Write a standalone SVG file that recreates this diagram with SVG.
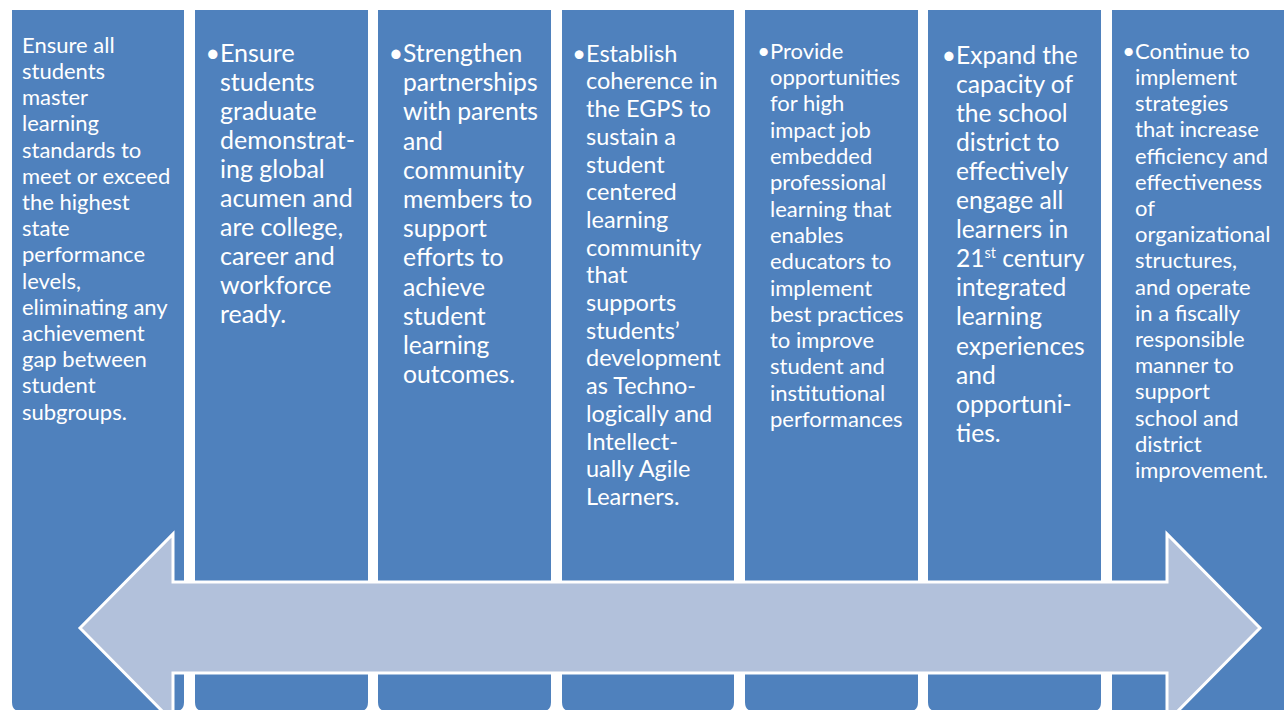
<svg xmlns="http://www.w3.org/2000/svg" width="1284" height="710" viewBox="0 0 1284 710">
<style>
.col{fill:#4F81BD}
.t{font-family:Lato,"Open Sans","Liberation Sans",sans-serif;fill:#FFFFFF}
.c1{font-size:22px}
.c2{font-size:25px}
.c3{font-size:24.7px}
.c4{font-size:23.5px}
.c5{font-size:22px}
.c6{font-size:24.6px}
.c7{font-size:22px}
.arrow{fill:#B2C1DB;stroke:#FFFFFF;stroke-width:3;stroke-linejoin:miter}
</style>
<rect width="1284" height="710" fill="#FFFFFF"/>
<g id="col1">
<path class="col" d="M12,10 H184 V702 Q184,711 176,711 H20 Q12,711 12,702 Z"/>
<text class="t c1" x="22" y="52.7">
<tspan x="22" y="52.7">Ensure all</tspan>
<tspan x="22" dy="26.2">students</tspan>
<tspan x="22" dy="26.2">master</tspan>
<tspan x="22" dy="26.2">learning</tspan>
<tspan x="22" dy="26.2">standards to</tspan>
<tspan x="22" dy="26.2">meet or exceed</tspan>
<tspan x="22" dy="26.2">the highest</tspan>
<tspan x="22" dy="26.2">state</tspan>
<tspan x="22" dy="26.2">performance</tspan>
<tspan x="22" dy="26.2">levels,</tspan>
<tspan x="22" dy="26.2">eliminating any</tspan>
<tspan x="22" dy="26.2">achievement</tspan>
<tspan x="22" dy="26.2">gap between</tspan>
<tspan x="22" dy="26.2">student</tspan>
<tspan x="22" dy="26.2">subgroups.</tspan>
</text>
</g>
<g id="col2">
<path class="col" d="M195,10 H368 V702 Q368,711 360,711 H203 Q195,711 195,702 Z"/>
<text class="t c2" x="220" y="62" text-anchor="end">•</text>
<text class="t c2" x="220" y="62">
<tspan x="220" y="62">Ensure</tspan>
<tspan x="220" dy="29">students</tspan>
<tspan x="220" dy="29">graduate</tspan>
<tspan x="220" dy="29">demonstrat-</tspan>
<tspan x="220" dy="29">ing global</tspan>
<tspan x="220" dy="29">acumen and</tspan>
<tspan x="220" dy="29">are college,</tspan>
<tspan x="220" dy="29">career and</tspan>
<tspan x="220" dy="29">workforce</tspan>
<tspan x="220" dy="29">ready.</tspan>
</text>
</g>
<g id="col3">
<path class="col" d="M378,10 H551 V702 Q551,711 543,711 H386 Q378,711 378,702 Z"/>
<text class="t c3" x="403" y="62" text-anchor="end">•</text>
<text class="t c3" x="403" y="62">
<tspan x="403" y="62">Strengthen</tspan>
<tspan x="403" dy="29.2">partnerships</tspan>
<tspan x="403" dy="29.2">with parents</tspan>
<tspan x="403" dy="29.2">and</tspan>
<tspan x="403" dy="29.2">community</tspan>
<tspan x="403" dy="29.2">members to</tspan>
<tspan x="403" dy="29.2">support</tspan>
<tspan x="403" dy="29.2">efforts to</tspan>
<tspan x="403" dy="29.2">achieve</tspan>
<tspan x="403" dy="29.2">student</tspan>
<tspan x="403" dy="29.2">learning</tspan>
<tspan x="403" dy="29.2">outcomes.</tspan>
</text>
</g>
<g id="col4">
<path class="col" d="M562,10 H734 V702 Q734,711 726,711 H570 Q562,711 562,702 Z"/>
<text class="t c4" x="586" y="61.7" text-anchor="end">•</text>
<text class="t c4" x="586" y="61.7">
<tspan x="586" y="61.7">Establish</tspan>
<tspan x="586" dy="27.7">coherence in</tspan>
<tspan x="586" dy="27.7">the EGPS to</tspan>
<tspan x="586" dy="27.7">sustain a</tspan>
<tspan x="586" dy="27.7">student</tspan>
<tspan x="586" dy="27.7">centered</tspan>
<tspan x="586" dy="27.7">learning</tspan>
<tspan x="586" dy="27.7">community</tspan>
<tspan x="586" dy="27.7">that</tspan>
<tspan x="586" dy="27.7">supports</tspan>
<tspan x="586" dy="27.7">students’</tspan>
<tspan x="586" dy="27.7">development</tspan>
<tspan x="586" dy="27.7">as Techno-</tspan>
<tspan x="586" dy="27.7">logically and</tspan>
<tspan x="586" dy="27.7">Intellect-</tspan>
<tspan x="586" dy="27.7">ually Agile</tspan>
<tspan x="586" dy="27.7">Learners.</tspan>
</text>
</g>
<g id="col5">
<path class="col" d="M745,10 H918 V702 Q918,711 910,711 H753 Q745,711 745,702 Z"/>
<text class="t c5" x="770" y="58.8" text-anchor="end">•</text>
<text class="t c5" x="770" y="58.8">
<tspan x="770" y="58.8">Provide</tspan>
<tspan x="770" dy="26.3">opportunities</tspan>
<tspan x="770" dy="26.3">for high</tspan>
<tspan x="770" dy="26.3">impact job</tspan>
<tspan x="770" dy="26.3">embedded</tspan>
<tspan x="770" dy="26.3">professional</tspan>
<tspan x="770" dy="26.3">learning that</tspan>
<tspan x="770" dy="26.3">enables</tspan>
<tspan x="770" dy="26.3">educators to</tspan>
<tspan x="770" dy="26.3">implement</tspan>
<tspan x="770" dy="26.3">best practices</tspan>
<tspan x="770" dy="26.3">to improve</tspan>
<tspan x="770" dy="26.3">student and</tspan>
<tspan x="770" dy="26.3">institutional</tspan>
<tspan x="770" dy="26.3">performances</tspan>
</text>
</g>
<g id="col6">
<path class="col" d="M928,10 H1101 V702 Q1101,711 1093,711 H936 Q928,711 928,702 Z"/>
<text class="t c6" x="956" y="63.5" text-anchor="end">•</text>
<text class="t c6" x="956" y="63.5">
<tspan x="956" y="63.5">Expand the</tspan>
<tspan x="956" dy="29.1">capacity of</tspan>
<tspan x="956" dy="29.1">the school</tspan>
<tspan x="956" dy="29.1">district to</tspan>
<tspan x="956" dy="29.1">effectively</tspan>
<tspan x="956" dy="29.1">engage all</tspan>
<tspan x="956" dy="29.1">learners in</tspan>
<tspan x="956" dy="29.1">21<tspan font-size="14.5" dy="-9">st</tspan><tspan dy="9"> century</tspan></tspan>
<tspan x="956" dy="29.1">integrated</tspan>
<tspan x="956" dy="29.1">learning</tspan>
<tspan x="956" dy="29.1">experiences</tspan>
<tspan x="956" dy="29.1">and</tspan>
<tspan x="956" dy="29.1">opportuni-</tspan>
<tspan x="956" dy="29.1">ties.</tspan>
</text>
</g>
<g id="col7">
<path class="col" d="M1112,10 H1284 V711 H1112 Z"/>
<text class="t c7" x="1135" y="58.8" text-anchor="end">•</text>
<text class="t c7" x="1135" y="58.8">
<tspan x="1135" y="58.8">Continue to</tspan>
<tspan x="1135" dy="26.2">implement</tspan>
<tspan x="1135" dy="26.2">strategies</tspan>
<tspan x="1135" dy="26.2">that increase</tspan>
<tspan x="1135" dy="26.2">efficiency and</tspan>
<tspan x="1135" dy="26.2">effectiveness</tspan>
<tspan x="1135" dy="26.2">of</tspan>
<tspan x="1135" dy="26.2">organizational</tspan>
<tspan x="1135" dy="26.2">structures,</tspan>
<tspan x="1135" dy="26.2">and operate</tspan>
<tspan x="1135" dy="26.2">in a fiscally</tspan>
<tspan x="1135" dy="26.2">responsible</tspan>
<tspan x="1135" dy="26.2">manner to</tspan>
<tspan x="1135" dy="26.2">support</tspan>
<tspan x="1135" dy="26.2">school and</tspan>
<tspan x="1135" dy="26.2">district</tspan>
<tspan x="1135" dy="26.2">improvement.</tspan>
</text>
</g>
<g id="arrow">
<polygon class="arrow" points="80,628 173,534 173,582 1167,582 1167,534 1260,628 1167,722 1167,673 173,673 173,722"/>
</g>
</svg>
